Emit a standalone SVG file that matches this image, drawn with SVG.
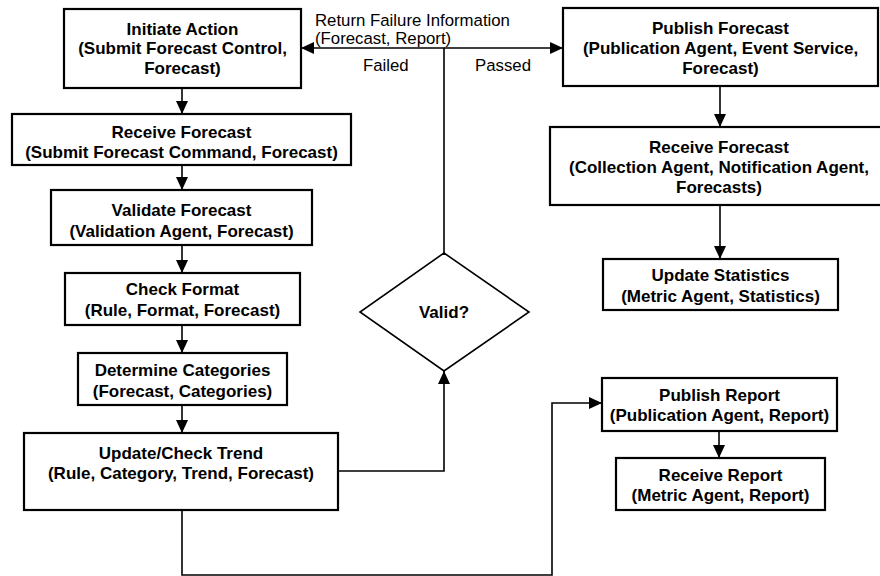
<svg xmlns="http://www.w3.org/2000/svg" width="880" height="576" viewBox="0 0 880 576">
<style>
.box{fill:#fff;stroke:#000;stroke-width:2.2}
.t{font-family:"Liberation Sans",Arial,sans-serif;font-size:17px;font-weight:bold;text-anchor:middle;fill:#000}
.l{font-family:"Liberation Sans",Arial,sans-serif;font-size:16.8px;fill:#000}
.c{fill:none;stroke:#000;stroke-width:1.6}
</style>
<defs>
<marker id="ah" markerUnits="userSpaceOnUse" markerWidth="13" markerHeight="12" refX="13" refY="6" orient="auto">
<path d="M0,0 L13,6 L0,12 z" fill="#000"/>
</marker>
</defs>
<rect width="880" height="576" fill="#fff"/>
<g id="connectors">
<path class="c" d="M182,88 V114" marker-end="url(#ah)"/>
<path class="c" d="M182,165 V190" marker-end="url(#ah)"/>
<path class="c" d="M182,245 V273" marker-end="url(#ah)"/>
<path class="c" d="M182,325 V353" marker-end="url(#ah)"/>
<path class="c" d="M182,405 V433" marker-end="url(#ah)"/>
<path class="c" d="M338,471 H444 V371" marker-end="url(#ah)"/>
<path class="c" d="M444,253 V48 H301" marker-end="url(#ah)"/>
<path class="c" d="M444,48 H563" marker-end="url(#ah)"/>
<path class="c" d="M720,86 V127" marker-end="url(#ah)"/>
<path class="c" d="M720,205 V259" marker-end="url(#ah)"/>
<path class="c" d="M182,510 V575 H552 V403 H602" marker-end="url(#ah)"/>
<path class="c" d="M719,431 V458" marker-end="url(#ah)"/>
<text class="l" x="315" y="26">Return Failure Information</text>
<text class="l" x="315" y="44">(Forecast, Report)</text>
<text class="l" x="363" y="71">Failed</text>
<text class="l" x="475" y="71">Passed</text>
</g>
<g id="initiate-action">
<rect class="box" x="64" y="9" width="237" height="79"/>
<text class="t" x="182.5" y="35">Initiate Action</text>
<text class="t" x="182.5" y="54">(Submit Forecast Control,</text>
<text class="t" x="182.5" y="74">Forecast)</text>
</g>
<g id="receive-forecast-1">
<rect class="box" x="12" y="114" width="339" height="51"/>
<text class="t" x="181.5" y="138">Receive Forecast</text>
<text class="t" x="181.5" y="158">(Submit Forecast Command, Forecast)</text>
</g>
<g id="validate-forecast">
<rect class="box" x="51" y="190" width="261" height="55"/>
<text class="t" x="181.5" y="216">Validate Forecast</text>
<text class="t" x="181.5" y="237">(Validation Agent, Forecast)</text>
</g>
<g id="check-format">
<rect class="box" x="65" y="273" width="235" height="52"/>
<text class="t" x="182.5" y="295">Check Format</text>
<text class="t" x="182.5" y="316">(Rule, Format, Forecast)</text>
</g>
<g id="determine-categories">
<rect class="box" x="78" y="353" width="209" height="52"/>
<text class="t" x="182.5" y="376">Determine Categories</text>
<text class="t" x="182.5" y="397">(Forecast, Categories)</text>
</g>
<g id="update-check-trend">
<rect class="box" x="24" y="433" width="314" height="77"/>
<text class="t" x="181" y="459">Update/Check Trend</text>
<text class="t" x="181" y="479">(Rule, Category, Trend, Forecast)</text>
</g>
<g id="valid">
<polygon fill="#fff" stroke="#000" stroke-width="1.6" points="444,253 529,312 444,371 360,312"/>
<text class="t" x="444" y="318">Valid?</text>
</g>
<g id="publish-forecast">
<rect class="box" x="563" y="8" width="315" height="78"/>
<text class="t" x="720.5" y="34">Publish Forecast</text>
<text class="t" x="720.5" y="54">(Publication Agent, Event Service,</text>
<text class="t" x="720.5" y="74">Forecast)</text>
</g>
<g id="receive-forecast-2">
<rect class="box" x="550" y="127" width="340" height="78"/>
<text class="t" x="719" y="153">Receive Forecast</text>
<text class="t" x="719" y="173">(Collection Agent, Notification Agent,</text>
<text class="t" x="719" y="193">Forecasts)</text>
</g>
<g id="update-statistics">
<rect class="box" x="603" y="259" width="235" height="51"/>
<text class="t" x="720.5" y="281">Update Statistics</text>
<text class="t" x="720.5" y="302">(Metric Agent, Statistics)</text>
</g>
<g id="publish-report">
<rect class="box" x="602" y="378" width="235" height="53"/>
<text class="t" x="719.5" y="401">Publish Report</text>
<text class="t" x="719.5" y="421">(Publication Agent, Report)</text>
</g>
<g id="receive-report">
<rect class="box" x="616" y="458" width="209" height="52"/>
<text class="t" x="720.5" y="481">Receive Report</text>
<text class="t" x="720.5" y="501">(Metric Agent, Report)</text>
</g>
</svg>
